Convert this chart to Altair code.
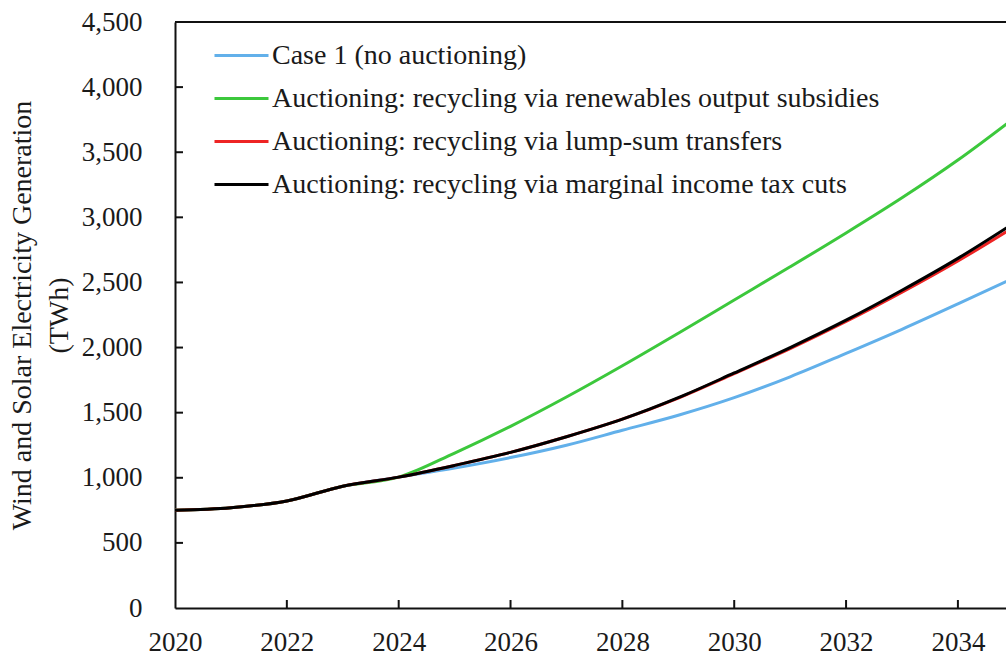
import altair as alt
import pandas as pd

# Wind and solar electricity generation (TWh) by scenario
years = list(range(2020, 2036))

case1 = [750, 770, 822, 935, 1005, 1075, 1155, 1250, 1365, 1480, 1615, 1775, 1955, 2140, 2335, 2535]
output_subsidies = [750, 770, 822, 935, 1005, 1190, 1395, 1620, 1860, 2110, 2365, 2620, 2880, 3150, 3440, 3760]
lump_sum = [750, 770, 822, 935, 1005, 1095, 1195, 1315, 1450, 1612, 1800, 1992, 2200, 2425, 2665, 2925]
income_tax = [750, 770, 822, 935, 1005, 1095, 1195, 1315, 1450, 1615, 1805, 2000, 2210, 2440, 2685, 2955]

series_names = [
    "Case 1 (no auctioning)",
    "Auctioning: recycling via renewables output subsidies",
    "Auctioning: recycling via lump-sum transfers",
    "Auctioning: recycling via marginal income tax cuts",
]
series_values = [case1, output_subsidies, lump_sum, income_tax]
series_colors = ["#62B0EA", "#3CC83C", "#EE2424", "#000000"]

y_ticks = [0, 500, 1000, 1500, 2000, 2500, 3000, 3500, 4000, 4500]
x_ticks = [2020, 2022, 2024, 2026, 2028, 2030, 2032, 2034]

rows = []
for order, (name, vals) in enumerate(zip(series_names, series_values)):
    for yr, v in zip(years, vals):
        rows.append({"year": yr, "value": v, "series": name, "order": order})
df = pd.DataFrame(rows)

FONT = "Liberation Serif"
TEXT = "#1a1a1a"
W, H = 831, 586
x_scale = alt.Scale(domain=[2020, 2034.86], nice=False, zero=False)
y_scale = alt.Scale(domain=[0, 4500], nice=False)

lines = alt.Chart(df).mark_line(strokeWidth=3, interpolate="monotone", clip=True).encode(
    x=alt.X("year:Q", scale=x_scale,
            axis=alt.Axis(values=x_ticks, format="d", title=None, grid=False, ticks=False,
                          labelPadding=21, labelFontSize=27, labelFont=FONT, labelColor=TEXT,
                          domainColor="#111", domainWidth=2, labelFlush=False)),
    y=alt.Y("value:Q", scale=y_scale,
            axis=alt.Axis(values=y_ticks, format=",d", grid=False, ticks=False,
                          labelPadding=33, labelFontSize=27, labelFont=FONT, labelColor=TEXT,
                          domainColor="#111", domainWidth=2,
                          title=["Wind and Solar Electricity Generation", "(TWh)"],
                          titleFont=FONT, titleFontSize=28, titleFontWeight="normal",
                          titleColor=TEXT, titleLineHeight=37, titlePadding=8)),
    color=alt.Color("series:N", sort=series_names,
                    scale=alt.Scale(domain=series_names, range=series_colors),
                    legend=alt.Legend(title=None, orient="none", legendX=38, legendY=5,
                                      symbolType="stroke", symbolSize=2916, symbolStrokeWidth=3,
                                      labelFont=FONT, labelFontSize=28, labelColor=TEXT,
                                      labelOffset=2, rowPadding=-1.5, padding=0, labelLimit=800)),
    order=alt.Order("order:Q"),
)

# inward tick marks on both axes
ytick_df = pd.DataFrame({"v": y_ticks[1:-1]})
xtick_df = pd.DataFrame({"yr": x_ticks[1:]})
ytick_marks = alt.Chart(ytick_df).mark_rule(color="#111", strokeWidth=2).encode(
    y=alt.Y("v:Q", scale=y_scale), x=alt.value(0), x2=alt.value(8))
xtick_marks = alt.Chart(xtick_df).mark_rule(color="#111", strokeWidth=2).encode(
    x=alt.X("yr:Q", scale=x_scale), y=alt.value(H), y2=alt.value(H - 8))

# top frame line
top_line = alt.Chart(pd.DataFrame({"v": [4500]})).mark_rule(color="#111", strokeWidth=2).encode(
    y=alt.Y("v:Q", scale=y_scale))

chart = alt.layer(top_line, ytick_marks, xtick_marks, lines).properties(
    width=W, height=H,
    autosize=alt.AutoSizeParams(type="none"),
    padding={"left": 175, "top": 22, "right": 0, "bottom": 49},
).configure_view(stroke=None).configure(background="white")

chart.save("out.html", embed_options={"renderer": "svg", "actions": False})
